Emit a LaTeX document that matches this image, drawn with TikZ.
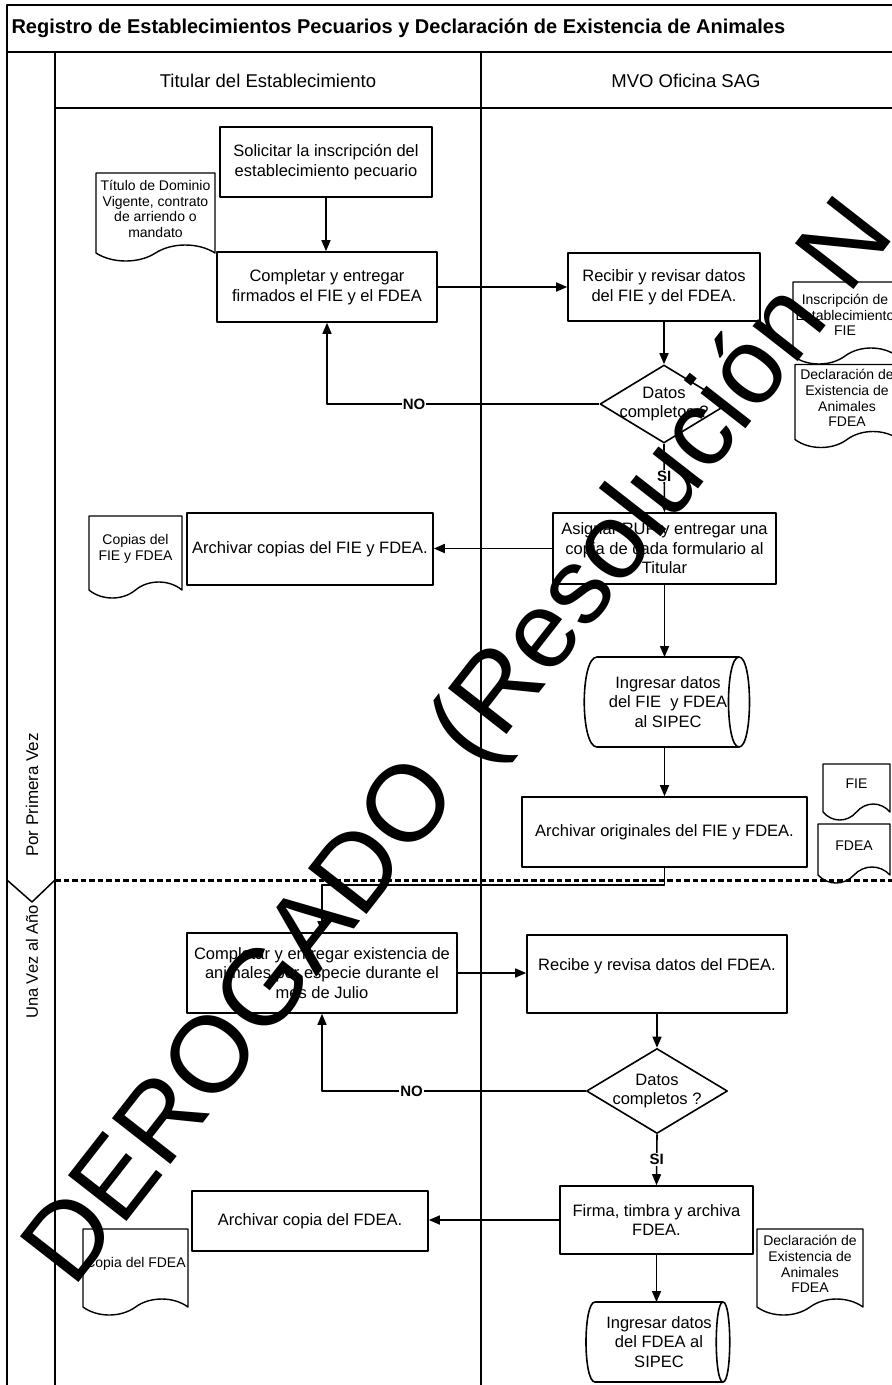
\documentclass[tikz,border=0pt]{standalone}
\usepackage{fontspec}
\setmainfont{Liberation Sans}
\usetikzlibrary{shapes.geometric,shapes.symbols,arrows.meta}
\newcommand{\boxfont}{\fontsize{16.5}{19.5}\selectfont}
\newcommand{\docfont}{\fontsize{14}{15.8}\selectfont}
\newcommand{\storeline}[3]{%
	\draw[line width=1.6pt] (#1.north west) .. controls ([xshift=-#2pt]#1.north west) and ([xshift=-#2pt]#1.south west) .. (#1.south west) -- (#1.south east) .. controls ([xshift=#3pt]#1.south east) and ([xshift=#3pt]#1.north east) .. (#1.north east) -- cycle
	(#1.north east) .. controls ([xshift=-#3pt]#1.north east) and ([xshift=-#3pt]#1.south east) .. (#1.south east);}
\begin{document}
\begin{tikzpicture}[x=1pt,y=-1pt,line join=round,>={Triangle[length=11pt,width=9pt]},
	proc/.style={draw,line width=1.6pt,rectangle,align=center,font=\boxfont,inner sep=2pt},
	dec/.style={draw,line width=1.6pt,diamond,aspect=1.6,inner sep=-8pt,align=center,font=\boxfont},
	store/.style={rectangle,outer sep=0pt,align=center,font=\boxfont,inner sep=2pt},
	docu/.style={draw,line width=1.4pt,tape,tape bend top=none,tape bend bottom=in and out,tape bend height=16pt,align=center,font=\docfont,inner sep=1pt},
	flow/.style={->,line width=1.6pt},
	elabel/.style={fill=white,font=\bfseries\fontsize{15}{15}\selectfont,inner sep=1pt},
	frame/.style={line width=2.2pt},
	lane/.style={line width=1.5pt},
	sepline/.style={line width=3pt,dash pattern=on 5.5pt off 3pt}]
	\useasboundingbox (0,0) rectangle (892,1385);
	\draw[frame] (7,1385)--(7,5)--(892,5);
	\draw[frame,line width=2.6pt] (7,52)--(892,52);
	\draw[lane] (55,52)--(55,1385) (481,52)--(481,1385) (55,108)--(892,108);
	\draw[sepline] (55,880)--(892,880);
	\draw[lane] (7,880)--(32,902)--(55,880);
	\node[anchor=west,font=\bfseries\fontsize{20}{21}\selectfont] (title) at (8,28) {Registro de Establecimientos Pecuarios y Declaración de Existencia de Animales};
	\node[font=\fontsize{18.5}{20}\selectfont] (hTit) at (268,81) {Titular del Establecimiento};
	\node[font=\fontsize{18.5}{20}\selectfont] (hMvo) at (686,81) {MVO Oficina SAG};
	\node[rotate=90,font=\fontsize{17}{18}\selectfont] (lPri) at (32,795) {Por Primera Vez};
	\node[rotate=90,font=\fontsize{16.5}{18}\selectfont] (lAnio) at (32,962) {Una Vez al Año};
	\node[proc,minimum width=212pt,minimum height=70pt] (sol) at (326,162) {Solicitar la inscripción del\\establecimiento pecuario};
	\node[proc,minimum width=220pt,minimum height=70pt] (comp) at (327,287) {Completar y entregar\\firmados el FIE y el FDEA};
	\node[proc,minimum width=192pt,minimum height=68pt] (rec) at (664,287) {Recibir y revisar datos\\del FIE y del FDEA.};
	\node[dec,minimum width=128pt,minimum height=78pt] (dec) at (664,404) {Datos\\completos ?};
	\node[proc,minimum width=223pt,minimum height=71pt] (asig) at (664.5,548.5) {Asignar RUP y entregar una\\copia de cada formulario al\\Titular};
	\node[proc,minimum width=246pt,minimum height=72pt] (archCop) at (310,549) {Archivar copias del FIE y FDEA.};
	\node[store,minimum width=142pt,minimum height=90pt] (ing) at (668,702) {Ingresar datos\\del FIE~ y FDEA\\al SIPEC};
	\storeline{ing}{17}{14}
	\node[proc,minimum width=285pt,minimum height=70pt] (archOri) at (664.5,832) {Archivar originales del FIE y FDEA.};
	\node[docu,minimum width=119pt,minimum height=88pt] (dTit) at (155.5,209) {Título de Dominio\\Vigente, contrato\\de arriendo o\\mandato};
	\node[docu,minimum width=93pt,minimum height=82pt] (dCop) at (135.5,549) {Copias del\\FIE y FDEA};
	\node[docu,minimum width=104pt,minimum height=82pt] (dFie) at (845,315) {Inscripción de\\Establecimiento\\FIE};
	\node[docu,minimum width=104pt,minimum height=83pt] (dFdea) at (847,398) {Declaración de\\Existencia de\\Animales\\FDEA};
	\node[docu,minimum width=67pt,minimum height=56pt] (oFie) at (856.5,784) {FIE};
	\node[docu,minimum width=72pt,minimum height=59pt] (oFdea) at (854,845.5) {FDEA};
	\node[proc,minimum width=270pt,minimum height=80pt] (comp2) at (322,973) {Completar y entregar existencia de\\animales por especie durante el\\mes de Julio};
	\node[proc,minimum width=260pt,minimum height=78pt] (rec2) at (657,974) {Recibe y revisa datos del FDEA.\\~};
	\node[dec,minimum width=141pt,minimum height=85pt] (dec2) at (657,1091) {Datos\\completos ?};
	\node[proc,minimum width=193pt,minimum height=68pt] (firma) at (656.5,1220) {Firma, timbra y archiva\\FDEA.};
	\node[proc,minimum width=236pt,minimum height=60pt] (archFdea) at (310,1221) {Archivar copia del FDEA.};
	\node[store,minimum width=128pt,minimum height=80pt] (ing2) at (659,1342) {Ingresar datos\\del FDEA al\\SIPEC};
	\storeline{ing2}{12}{9}
	\node[docu,minimum width=105pt,minimum height=86pt] (dCop2) at (135.5,1264) {Copia del FDEA};
	\node[docu,minimum width=106pt,minimum height=86pt] (dFdea2) at (810,1264) {Declaración de\\Existencia de\\Animales\\FDEA};
	\coordinate (bend) at (664.5,885);
	\draw[flow] (sol.south)--(sol.south|-comp.north);
	\draw[flow] (comp.east)--(comp.east-|rec.west);
	\draw[flow] (rec.south)--(dec.north);
	\draw[flow] (dec.west)-|node[elabel,pos=0.34]{NO}(comp.south);
	\draw[flow] (dec.south)--node[elabel,pos=0.47]{SI}(asig.north);
	\draw[flow] (asig.west)--(asig.west-|archCop.east);
	\draw[flow] (asig.south)--(asig.south|-ing.north);
	\draw[flow] (archOri.north|-ing.south)--(archOri.north);
	\draw[flow] (archOri.south)--(bend)-|(comp2.north);
	\draw[flow] (comp2.east)--(comp2.east-|rec2.west);
	\draw[flow] (rec2.south)--(dec2.north);
	\draw[flow] (dec2.west)-|node[elabel,pos=0.33]{NO}(comp2.south);
	\draw[flow] (dec2.south)--node[elabel,pos=0.5]{SI}(firma.north);
	\draw[flow] (firma.west)--(firma.west-|archFdea.east);
	\draw[flow] (firma.south|-firma.south)--(firma.south|-ing2.north);
	\node[rotate=52,anchor=base west,inner sep=0,font=\fontsize{108}{108}\selectfont] (stamp) at (73,1290) {DEROGADO (Resolución N};
\end{tikzpicture}
\end{document}
